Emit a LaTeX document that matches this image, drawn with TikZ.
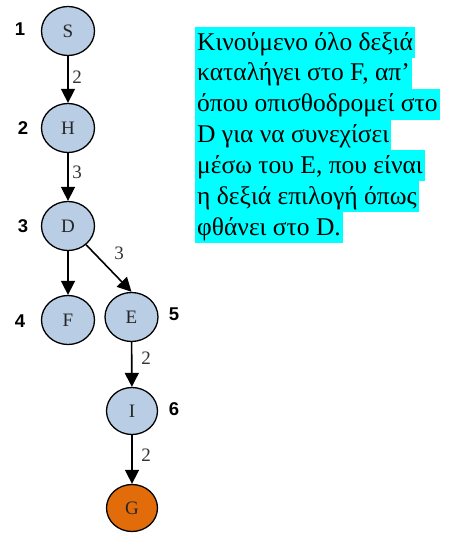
\documentclass[tikz,border=0pt]{standalone}
\usepackage{fontspec}
\setmainfont{Liberation Serif}
\newfontfamily\stepfont{Liberation Sans}
\usetikzlibrary{arrows.meta,shapes.geometric}
\definecolor{nodeblue}{HTML}{B9CDE5}
\definecolor{nodeorange}{HTML}{E36C0A}
\definecolor{hlcyan}{HTML}{00FFFF}
\definecolor{lblgray}{HTML}{333333}
\tikzset{
  vtx/.style={ellipse, draw=black, line width=1.3pt, fill=nodeblue, minimum width=53pt, minimum height=49pt, inner sep=0pt, font=\fontsize{19}{19}\selectfont, text=black!85},
  goalvtx/.style={vtx, fill=nodeorange, minimum width=51pt, minimum height=47pt},
  smallvtx/.style={vtx, minimum width=51pt, minimum height=47pt},
  edgearrow/.style={line width=1.6pt, -{Triangle[length=14pt,width=14pt]}},
  lbl/.style={font=\fontsize{19}{19}\selectfont, text=lblgray, inner sep=0pt},
  stepnum/.style={font=\stepfont\bfseries\fontsize{18.5}{18.5}\selectfont, inner sep=0pt},
  hl/.style={fill=hlcyan, inner xsep=2pt, inner ysep=0pt, text height=23pt, text depth=7.83pt, anchor=base west, font=\fontsize{25.5}{29}\selectfont}
}
\begin{document}
\begin{tikzpicture}[x=1pt,y=-1pt]
\useasboundingbox (0,0) rectangle (450,533);
% nodes
\node[vtx] (S) at (68,31) {S};
\node[vtx] (H) at (68,128) {H};
\node[vtx] (D) at (68,226) {D};
\node[vtx] (F) at (68,320) {F};
\node[vtx] (E) at (131.5,317) {E};
\node[smallvtx] (I) at (132,411) {I};
\node[goalvtx] (G) at (132,508) {G};
% edges
\draw[edgearrow] (S) -- (H);
\draw[edgearrow] (H) -- (D);
\draw[edgearrow] (D) -- (F);
\draw[edgearrow] (D) -- (E.north);
\draw[edgearrow] (E) -- (I);
\draw[edgearrow] (I) -- (G);
% edge labels
\node[lbl] (l1) at (77,77) {2};
\node[lbl] (l2) at (77,172) {3};
\node[lbl] (l3) at (119,253) {3};
\node[lbl] (l4) at (146,358) {2};
\node[lbl] (l5) at (146,455) {2};
% step numbers
\node[stepnum] (n1) at (20,29) {1};
\node[stepnum] (n2) at (23,128.5) {2};
\node[stepnum] (n3) at (23,226.5) {3};
\node[stepnum] (n4) at (20,321) {4};
\node[stepnum] (n5) at (174,314.5) {5};
\node[stepnum] (n6) at (174,409.5) {6};
% highlighted text
\node[hl] (t1) at (195,50) {Κινούμενο όλο δεξιά};
\node[hl] (t2) at (195,80.83) {καταλήγει στο F, απ’};
\node[hl] (t3) at (195,111.67) {όπου οπισθοδρομεί στο};
\node[hl] (t4) at (195,142.5) {D για να συνεχίσει};
\node[hl] (t5) at (195,173.33) {μέσω του E, που είναι};
\node[hl] (t6) at (195,204.17) {η δεξιά επιλογή όπως};
\node[hl] (t7) at (195,235) {φθάνει στο D.};
\end{tikzpicture}
\end{document}
